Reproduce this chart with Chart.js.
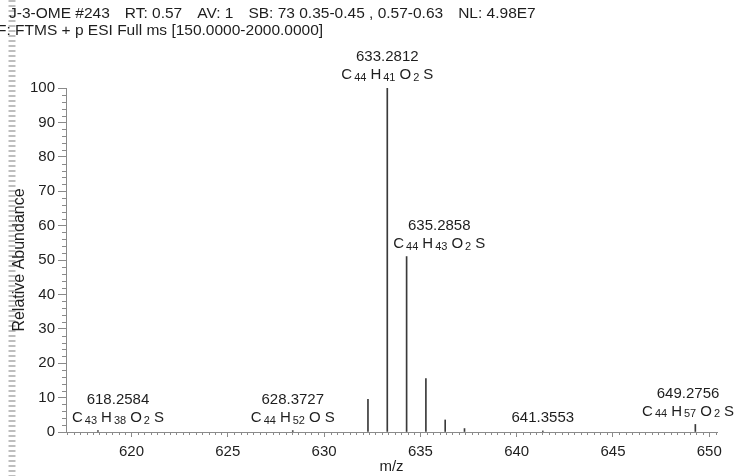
<!DOCTYPE html>
<html>
<head>
<meta charset="utf-8">
<script src="https://cdn.jsdelivr.net/npm/chart.js@4.4.0/dist/chart.umd.min.js"></script>
<style>
  html, body { margin: 0; padding: 0; background: #fff; }
  #wrap { width: 740px; height: 476px; }
</style>
</head>
<body>
<div id="wrap"><canvas id="spectrum" width="740" height="476"></canvas></div>
<script>
// Peak list: m/z and relative abundance (%)
const peakMz = [618.2584, 628.3727, 632.2780, 633.2812, 634.2845, 635.2858, 636.2880, 637.2900, 641.3553, 649.2756];
const peakAbundance = [0.4, 0.4, 9.5, 100, 51, 15.5, 3.5, 1.0, 0.3, 2.2];

// Annotated peaks and their elemental compositions [element, count]
const labelMz = [618.2584, 628.3727, 633.2812, 635.2858, 641.3553, 649.2756];
const labelFormula = [
  [['C', '43'], ['H', '38'], ['O', '2'], ['S', '']],
  [['C', '44'], ['H', '52'], ['O', ''], ['S', '']],
  [['C', '44'], ['H', '41'], ['O', '2'], ['S', '']],
  [['C', '44'], ['H', '43'], ['O', '2'], ['S', '']],
  null,
  [['C', '44'], ['H', '57'], ['O', '2'], ['S', '']]
];

// Axis ticks
const xTicks = [620, 625, 630, 635, 640, 645, 650];
const yTicks = [0, 10, 20, 30, 40, 50, 60, 70, 80, 90, 100];

// Scan header: first line is tab separated fields
const headerFields = ['J-3-OME #243', 'RT: 0.57', 'AV: 1', 'SB: 73 0.35-0.45 , 0.57-0.63', 'NL: 4.98E7'];
const headerLine2 = 'F: FTMS + p ESI Full ms [150.0000-2000.0000]';

const FONT = '"Liberation Sans", Arial, Helvetica, sans-serif';
const TEXT = '#1e1e1e';
const AXIS = '#8a8a8a';

// header text and the dark strip along the scanned page edge
const pagePlugin = {
  id: 'page',
  beforeDraw(chart) {
    const c = chart.ctx;
    c.save();
    c.fillStyle = '#fff';
    c.fillRect(0, 0, chart.width, chart.height);
    c.strokeStyle = 'rgba(110,110,110,0.45)';
    c.lineWidth = 7;
    c.setLineDash([2, 3]);
    c.beginPath();
    c.moveTo(12, 0);
    c.lineTo(12, chart.height);
    c.stroke();
    c.setLineDash([]);
    c.fillStyle = TEXT;
    c.font = '15.5px ' + FONT;
    c.textBaseline = 'middle';
    let x = 9;
    headerFields.forEach(t => {
      c.fillText(t, x, 14);
      x += c.measureText(t).width + 15;
    });
    c.fillText(headerLine2, -3, 31);
    c.restore();
  }
};

// minor tick marks on both axes
const minorTicks = {
  id: 'minorTicks',
  afterDraw(chart) {
    const c = chart.ctx, xs = chart.scales.x, ys = chart.scales.y, a = chart.chartArea;
    c.save();
    c.strokeStyle = AXIS;
    c.lineWidth = 1;
    c.beginPath();
    for (let v = 2; v < 100; v += 2) {
      if (v % 10 === 0) continue;
      const y = Math.round(ys.getPixelForValue(v)) + 0.5;
      c.moveTo(a.left - 4, y);
      c.lineTo(a.left, y);
    }
    for (let k = Math.ceil(xs.min * 3); k <= Math.floor(xs.max * 3); k++) {
      if (k % 15 === 0) continue;
      const x = Math.round(xs.getPixelForValue(k / 3)) + 0.5;
      c.moveTo(x, a.bottom);
      c.lineTo(x, a.bottom + 3);
    }
    c.stroke();
    c.restore();
  }
};

function formulaWidth(c, parts) {
  let w = 0;
  parts.forEach((p, i) => {
    c.font = '15px ' + FONT;
    w += c.measureText(p[0]).width;
    if (p[1]) {
      c.font = '11px ' + FONT;
      w += 2 + c.measureText(p[1]).width;
    }
    if (i < parts.length - 1) w += 4;
  });
  return w;
}

function drawFormula(c, parts, x, y) {
  parts.forEach(p => {
    c.font = '15px ' + FONT;
    c.fillText(p[0], x, y);
    x += c.measureText(p[0]).width;
    if (p[1]) {
      c.font = '11px ' + FONT;
      c.fillText(p[1], x + 2, y + 3);
      x += 2 + c.measureText(p[1]).width;
    }
    x += 4;
  });
}

// m/z and composition labels above the annotated peaks
const peakLabels = {
  id: 'peakLabels',
  afterDatasetsDraw(chart) {
    const c = chart.ctx, xs = chart.scales.x, ys = chart.scales.y, a = chart.chartArea;
    c.save();
    c.fillStyle = TEXT;
    c.textBaseline = 'middle';
    c.textAlign = 'left';
    labelMz.forEach((mz, i) => {
      let top = 0;
      peakMz.forEach((m, j) => {
        if (Math.abs(m - mz) <= 1.05) top = Math.max(top, peakAbundance[j]);
      });
      const px = xs.getPixelForValue(mz);
      const lowY = ys.getPixelForValue(top) - 13;
      const parts = labelFormula[i];
      const mzText = mz.toFixed(4);
      c.font = '15px ' + FONT;
      let w = c.measureText(mzText).width;
      if (parts) w = Math.max(w, formulaWidth(c, parts));
      const boxBottom = lowY + 8;
      let cx = px;
      // move clear of taller neighbouring peaks
      peakMz.forEach((m, j) => {
        if (m === mz) return;
        const lx = xs.getPixelForValue(m), ly = ys.getPixelForValue(peakAbundance[j]);
        if (ly < boxBottom && lx > cx - w / 2 - 4 && lx < cx + w / 2 + 4) {
          cx = lx < px ? lx + w / 2 + 6 : lx - w / 2 - 6;
        }
      });
      cx = Math.max(cx, a.left + 6 + w / 2);
      cx = Math.min(cx, chart.width - 6 - w / 2);
      c.font = '15px ' + FONT;
      const mw = c.measureText(mzText).width;
      if (parts) {
        c.fillText(mzText, cx - mw / 2, lowY - 18);
        const fw = formulaWidth(c, parts);
        drawFormula(c, parts, cx - fw / 2, lowY);
      } else {
        c.fillText(mzText, cx - mw / 2, lowY);
      }
    });
    c.restore();
  }
};

const ctx = document.getElementById('spectrum').getContext('2d');
const spectrum = new Chart(ctx, {
  type: 'bar',
  data: {
    datasets: [{
      data: peakMz.map((m, i) => ({ x: m, y: peakAbundance[i] })),
      backgroundColor: '#3a3a3a',
      borderWidth: 0,
      barThickness: 1
    }]
  },
  options: {
    responsive: false,
    animation: false,
    layout: { padding: { top: 88, right: 23, left: 0, bottom: 0 } },
    plugins: { legend: { display: false }, tooltip: { enabled: false } },
    scales: {
      x: {
        type: 'linear',
        min: 616.6,
        max: 650.4,
        offset: false,
        afterBuildTicks: s => { s.ticks = xTicks.map(v => ({ value: v })); },
        afterFit: s => { s.height = 44; },
        grid: { drawOnChartArea: false, offset: false, tickLength: 5, color: AXIS },
        border: { color: AXIS },
        ticks: { font: { size: 15, family: FONT }, color: TEXT, padding: 6, maxRotation: 0, autoSkip: false },
        title: { display: true, text: 'm/z', font: { size: 15, family: FONT }, color: TEXT, padding: { top: 0, bottom: 0 } }
      },
      y: {
        min: 0,
        max: 100,
        afterBuildTicks: s => { s.ticks = yTicks.map(v => ({ value: v })); },
        afterFit: s => { s.width = 66; },
        grid: { drawOnChartArea: false, tickLength: 8, color: AXIS },
        border: { color: AXIS },
        ticks: { font: { size: 15, family: FONT }, color: TEXT, padding: 3 },
        title: { display: true, text: 'Relative Abundance', font: { size: 16, family: FONT }, color: TEXT, padding: { top: 10, bottom: 0 } }
      }
    }
  },
  plugins: [pagePlugin, minorTicks, peakLabels]
});
</script>
</body>
</html>
